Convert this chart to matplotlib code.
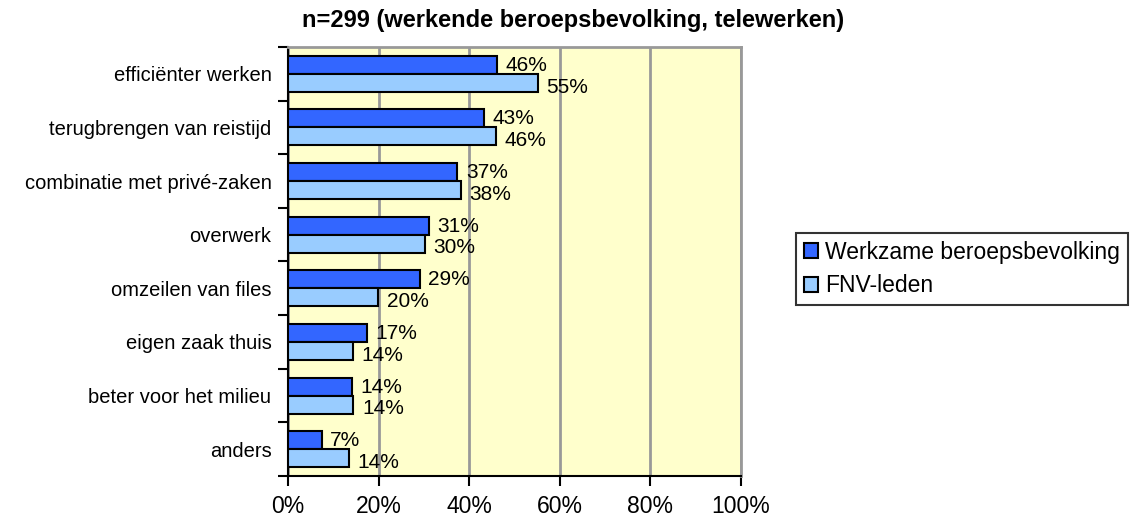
import matplotlib.pyplot as plt
import numpy as np

plt.rcParams['font.family'] = ['Liberation Sans', 'DejaVu Sans']

# data
categories = [
    "efficiënter werken",
    "terugbrengen van reistijd",
    "combinatie met privé-zaken",
    "overwerk",
    "omzeilen van files",
    "eigen zaak thuis",
    "beter voor het milieu",
    "anders",
]
werkzaam = [46.1, 43.2, 37.4, 31.1, 29.1, 17.4, 14.1, 7.4]
fnv = [55.1, 45.9, 38.2, 30.2, 19.9, 14.3, 14.4, 13.5]
series_names = ["Werkzame beroepsbevolking", "FNV-leden"]
xticks = [0, 20, 40, 60, 80, 100]

fig = plt.figure(figsize=(11.39, 5.21), dpi=100)
ax = fig.add_axes([0.2529, 0.0864, 0.3977, 0.8234])
ax.set_facecolor('#FFFFCC')

n = len(categories)
y = np.arange(n)
h = 0.335
b1 = ax.barh(y - h / 2, werkzaam, height=h, color='#3366FF', edgecolor='black', linewidth=1.5,
             label=series_names[0], zorder=3)
b2 = ax.barh(y + h / 2, fnv, height=h, color='#99CCFF', edgecolor='black', linewidth=1.5,
             label=series_names[1], zorder=3)

for bars, vals, dy in [(b1, werkzaam, 0.01), (b2, fnv, 0.08)]:
    for bar, v in zip(bars, vals):
        ax.text(v + 1.9, bar.get_y() + bar.get_height() / 2 + dy, '%.0f%%' % v,
                va='center', ha='left', fontsize=15, zorder=4)

ax.set_ylim(n - 0.5, -0.5)
ax.set_xlim(0, 100)

# category boundaries get tick marks, labels sit in between
ax.set_yticks(np.arange(-0.5, n, 1))
ax.set_yticklabels([])
ax.set_yticks(y, minor=True)
ax.set_yticklabels(categories, minor=True, fontsize=14.5)
ax.tick_params(axis='y', which='major', length=7, width=1.5, direction='out')
ax.tick_params(axis='y', which='minor', length=0, pad=12)

ax.set_xticks(xticks)
ax.set_xticklabels(['%d%%' % t for t in xticks], fontsize=16.5)
ax.tick_params(axis='x', length=7, width=1.5, direction='out', pad=6.5)

ax.xaxis.grid(True, color='#999999', linewidth=2, zorder=0)
ax.set_axisbelow(True)

for side in ['top', 'right']:
    ax.spines[side].set_color('#999999')
    ax.spines[side].set_linewidth(2)
ax.spines['left'].set_linewidth(1.5)
ax.spines['bottom'].set_linewidth(1.5)

fig.text(573.5 / 1139, 1 - 20 / 521, 'n=299 (werkende beroepsbevolking, telewerken)',
         fontsize=17, fontweight='bold', ha='center', va='center')

leg = fig.legend(handles=[b1, b2], loc='upper left', bbox_to_anchor=(796 / 1139, 1 - 233 / 521),
                 fontsize=16.5, frameon=True, fancybox=False, edgecolor='black',
                 handlelength=0.63, handleheight=0.63, handletextpad=0.3, borderpad=0.35,
                 labelspacing=0.45, borderaxespad=0)
leg.get_frame().set_linewidth(1.5)

plt.savefig('out.png', dpi=100)
